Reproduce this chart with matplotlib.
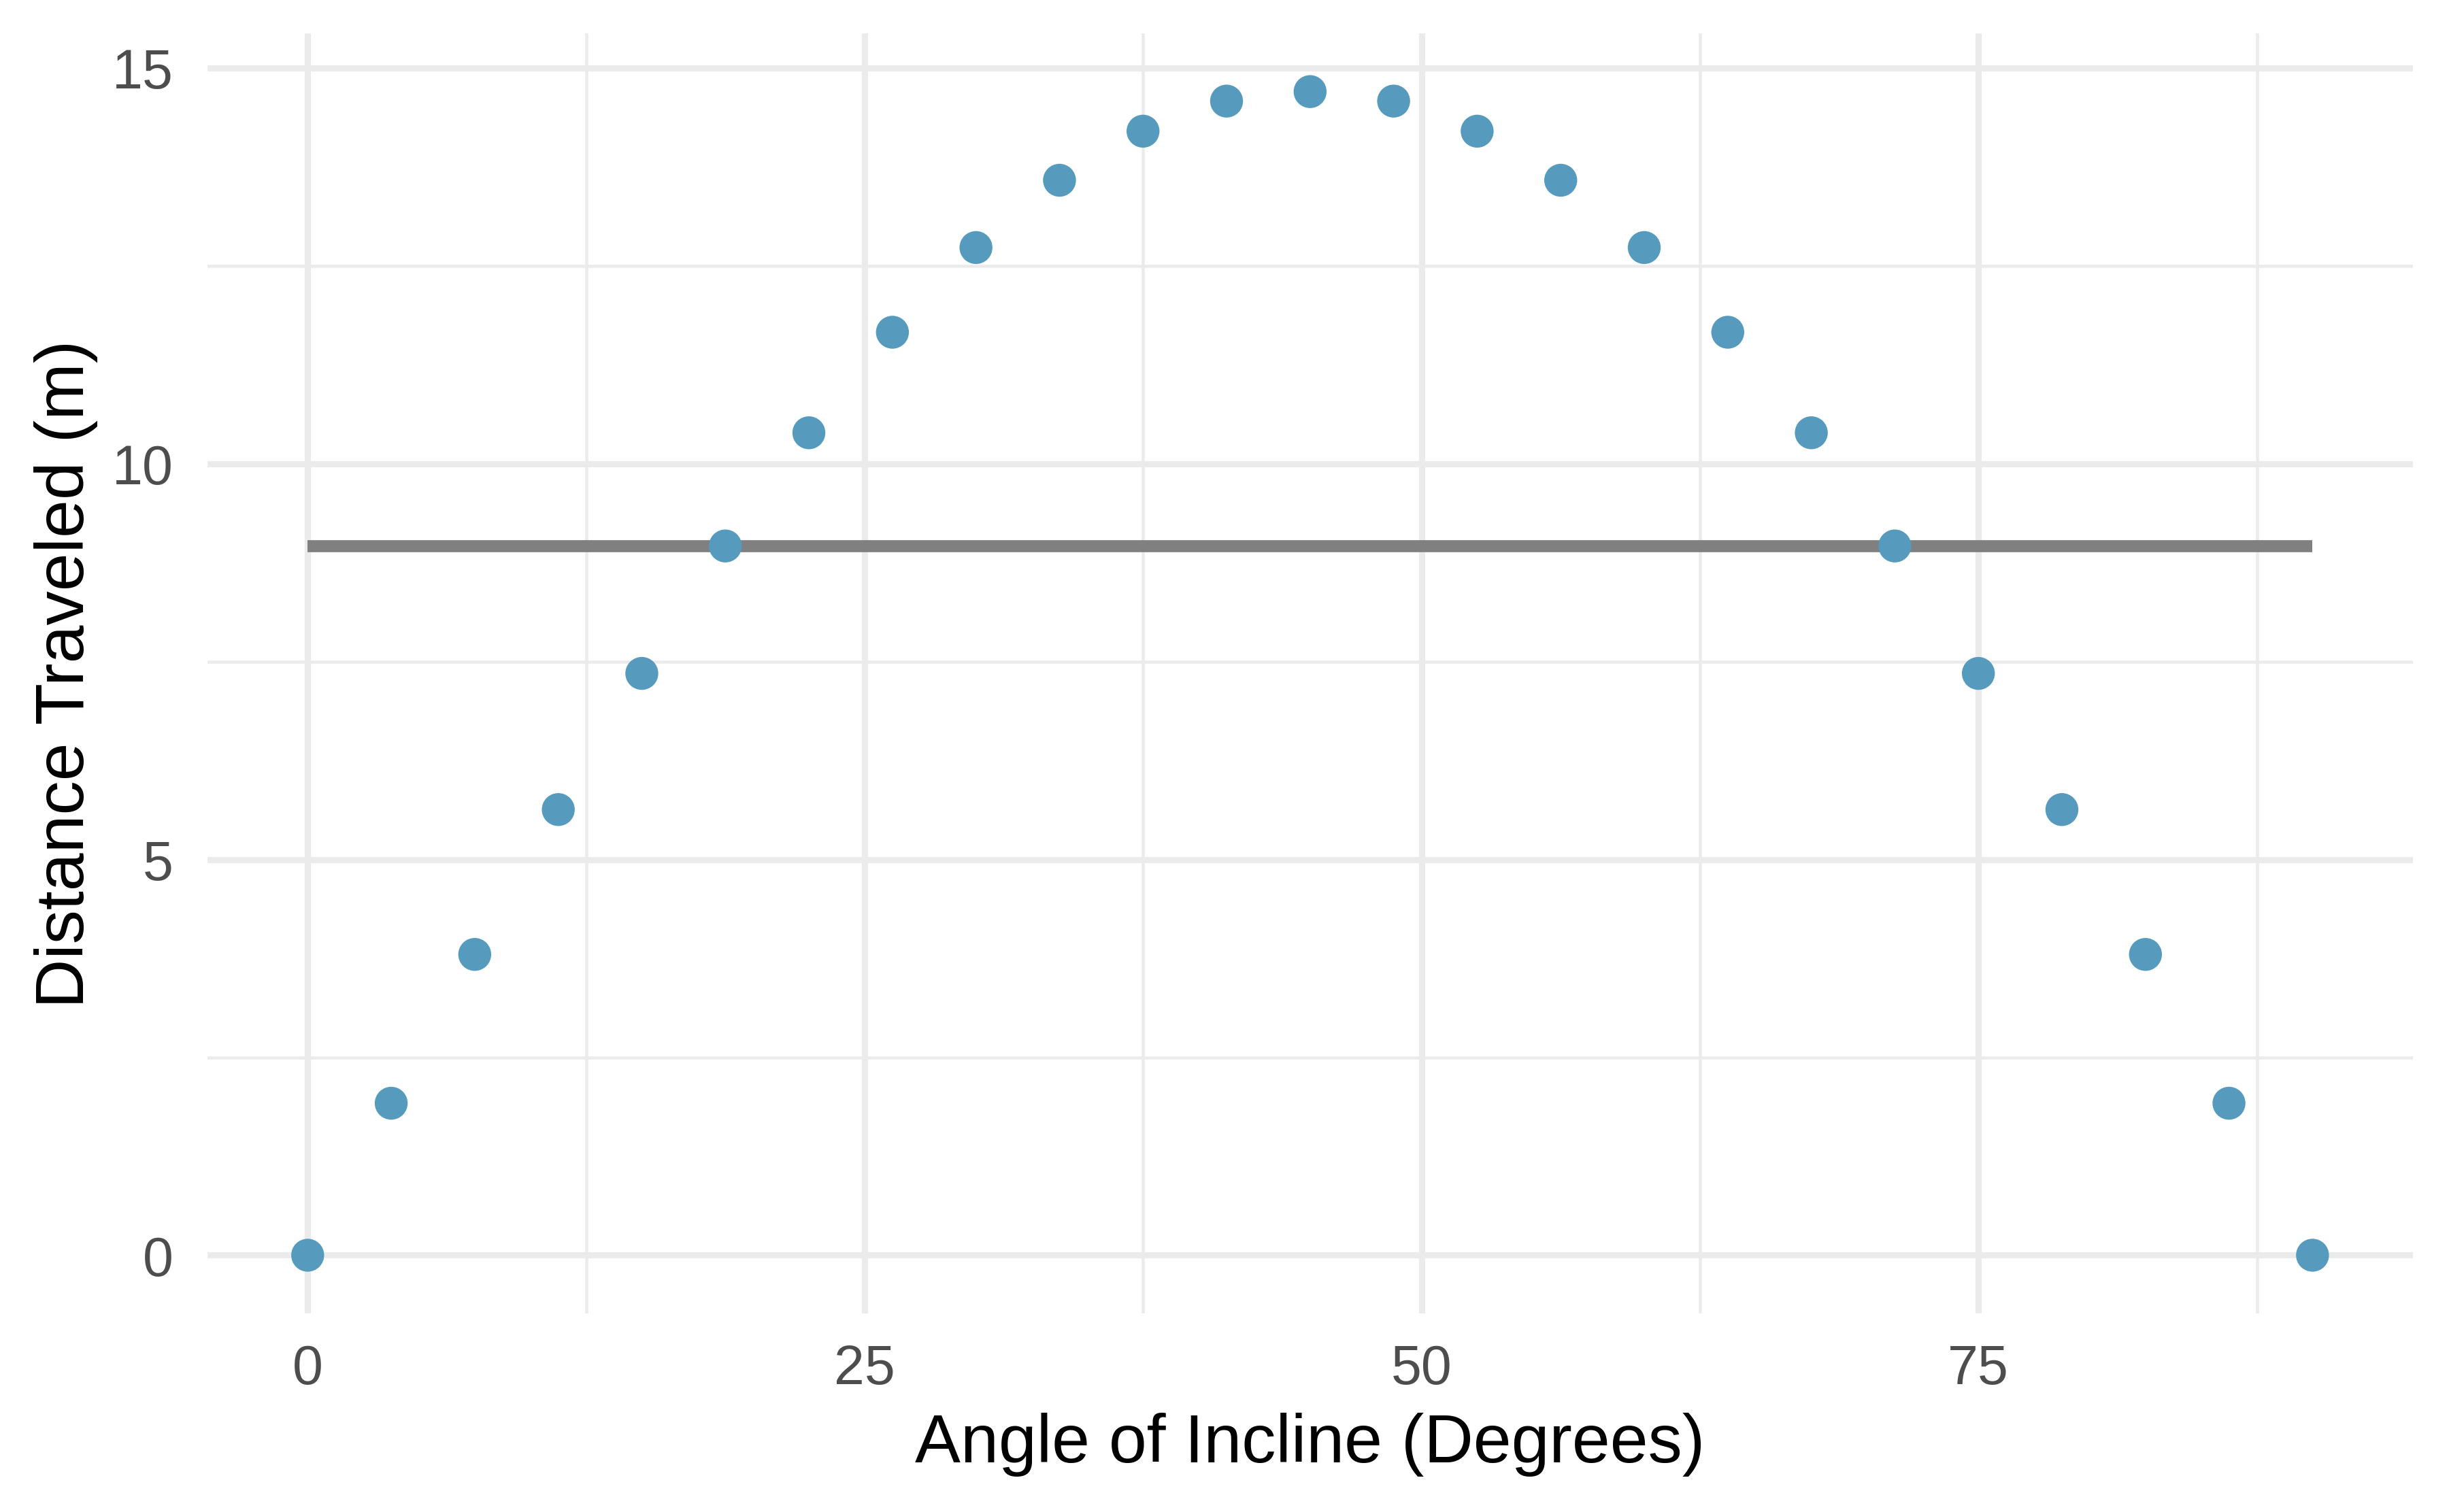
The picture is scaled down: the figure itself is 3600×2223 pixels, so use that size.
import matplotlib
matplotlib.use("Agg")
import matplotlib.pyplot as plt
from matplotlib.ticker import FixedLocator

# angle of incline (degrees) and distance traveled (m)
angles = [0, 3.75, 7.5, 11.25, 15, 18.75, 22.5, 26.25, 30, 33.75, 37.5, 41.25, 45,
          48.75, 52.5, 56.25, 60, 63.75, 67.5, 71.25, 75, 78.75, 82.5, 86.25, 90]
distance = [0, 1.92, 3.80, 5.63, 7.35, 8.96, 10.39, 11.66, 12.73, 13.58, 14.20, 14.58, 14.70,
            14.58, 14.20, 13.58, 12.73, 11.66, 10.39, 8.96, 7.35, 5.63, 3.80, 1.92, 0]
# horizontal reference line
line_x = [0, 90]
line_y = [8.96, 8.96]

x_major = [0, 25, 50, 75]
x_minor = [12.5, 37.5, 62.5, 87.5]
y_major = [0, 5, 10, 15]
y_minor = [2.5, 7.5, 12.5]

plt.rcParams['font.family'] = ['Liberation Sans', 'DejaVu Sans']

fig = plt.figure(figsize=(12, 7.413), dpi=300)
ax = fig.add_axes([0.0847, 0.1313, 0.9005, 0.8462])

grid = '#EBEBEB'
ax.xaxis.set_major_locator(FixedLocator(x_major))
ax.xaxis.set_minor_locator(FixedLocator(x_minor))
ax.yaxis.set_major_locator(FixedLocator(y_major))
ax.yaxis.set_minor_locator(FixedLocator(y_minor))
ax.grid(which='major', color=grid, linewidth=2.2)
ax.grid(which='minor', color=grid, linewidth=1.1)
ax.set_axisbelow(True)
for s in ax.spines.values():
    s.set_visible(False)

ax.plot(line_x, line_y, color='#808080', linewidth=4.25, solid_capstyle='butt', zorder=2)
ax.scatter(angles, distance, s=135, color='#569BBD', edgecolors='none', zorder=3)

ax.set_xlim(-4.5, 94.5)
ax.set_ylim(-0.735, 15.435)

ax.tick_params(which='both', length=0)
ax.tick_params(axis='x', labelsize=19.4, labelcolor='#4D4D4D', pad=10.5)
ax.tick_params(axis='y', labelsize=19.4, labelcolor='#4D4D4D', pad=12)

fig.text(0.535, 0.0333, 'Angle of Incline (Degrees)', fontsize=24.1,
         ha='center', va='baseline')
fig.text(50 / 3600, 0.5544, 'Distance Traveled (m)', fontsize=24.1,
         rotation=90, ha='left', va='center')

fig.savefig('out.png', dpi=300, facecolor='white')
